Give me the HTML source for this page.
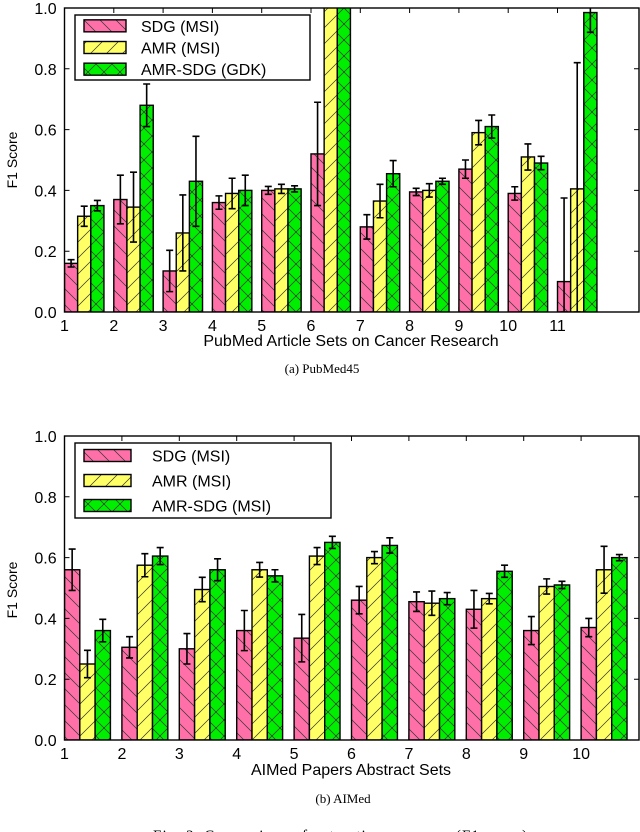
<!DOCTYPE html>
<html><head><meta charset="utf-8"><style>
html,body{margin:0;padding:0;background:#fff;width:640px;height:832px;overflow:hidden}
svg{display:block}
text{font-family:"Liberation Sans",sans-serif}
.serif{font-family:"Liberation Serif",serif}
</style></head><body>
<svg id="fig" width="640" height="832" viewBox="0 0 640 832">
<defs>
<pattern id="hp" patternUnits="userSpaceOnUse" width="16" height="16"><rect width="16" height="16" fill="#ff6fa8"/><path d="M0,0L16,16M-8,8L8,24M8,-8L24,8" stroke="#333" stroke-width="0.7"/></pattern>
<pattern id="hy" patternUnits="userSpaceOnUse" width="16" height="16"><rect width="16" height="16" fill="#ffff66"/><path d="M0,16L16,0M-8,8L8,-8M8,24L24,8" stroke="#333" stroke-width="0.7"/></pattern>
<pattern id="hg" patternUnits="userSpaceOnUse" width="16" height="16"><rect width="16" height="16" fill="#00ee00"/><path d="M0,0L16,16M-8,8L8,24M8,-8L24,8M0,16L16,0M-8,8L8,-8M8,24L24,8" stroke="#333" stroke-width="0.7"/></pattern>
</defs>
<g id="chartA"></g>
<g id="chartB"></g>
<text class="serif" x="322" y="373" font-size="13" text-anchor="middle">(a) PubMed45</text>
<text class="serif" x="343" y="803" font-size="13" text-anchor="middle">(b) AIMed</text>
<text class="serif" x="153" y="840" font-size="15" textLength="374">Fig. 3.   Comparison of extraction accuracy (F1 score)</text>
</svg>
<script>
const catsA = ["1","2","3","4","5","6","7","8","9","10","11"];
const sdgA = [0.16,0.37,0.135,0.36,0.40,0.52,0.28,0.395,0.47,0.39,0.10];
const sdgErrA = [0.012,0.08,0.068,0.022,0.013,0.17,0.04,0.012,0.03,0.022,0.275];
const amrA = [0.315,0.345,0.26,0.39,0.405,1.05,0.365,0.40,0.59,0.51,0.405];
const amrErrA = [0.033,0.115,0.125,0.05,0.015,0,0.055,0.022,0.04,0.043,0.415];
const gdkA = [0.35,0.68,0.43,0.40,0.405,1.05,0.455,0.43,0.61,0.49,0.985];
const gdkErrA = [0.017,0.07,0.148,0.05,0.01,0,0.043,0.01,0.038,0.022,0.065];
const namesA = ["SDG (MSI)","AMR (MSI)","AMR-SDG (GDK)"];

const catsB = ["1","2","3","4","5","6","7","8","9","10"];
const sdgB = [0.56,0.305,0.30,0.36,0.335,0.46,0.455,0.43,0.36,0.37];
const sdgErrB = [0.068,0.035,0.05,0.066,0.078,0.045,0.032,0.062,0.046,0.03];
const amrB = [0.25,0.575,0.495,0.56,0.605,0.60,0.45,0.465,0.505,0.56];
const amrErrB = [0.045,0.038,0.04,0.024,0.028,0.02,0.04,0.017,0.025,0.077];
const gdkB = [0.36,0.605,0.56,0.54,0.65,0.64,0.465,0.555,0.51,0.60];
const gdkErrB = [0.037,0.028,0.036,0.02,0.02,0.025,0.02,0.02,0.012,0.01];
const namesB = ["SDG (MSI)","AMR (MSI)","AMR-SDG (MSI)"];
const yTicks = ["0.0","0.2","0.4","0.6","0.8","1.0"];

const NS="http://www.w3.org/2000/svg";
function mk(p,tag,at){const e=document.createElementNS(NS,tag);for(const k in at)e.setAttribute(k,at[k]);p.appendChild(e);return e;}

function draw(g,cfg){
  const {cats,series,errs,names,x0,x1,yTop,yBot,step,legend,xtitle,ytitleY,xtitleY}=cfg;
  const yS=v=>yBot-(Math.min(v,1.03)*(yBot-yTop));
  const xS=i=>x0+i*step;
  const bw=step*0.8/3;
  const fills=["url(#hp)","url(#hy)","url(#hg)"];
  const clipId=g.id+"clip";
  const cp=mk(g,"clipPath",{id:clipId});mk(cp,"rect",{x:x0,y:yTop,width:x1-x0,height:yBot-yTop});
  const bars=mk(g,"g",{"clip-path":"url(#"+clipId+")"});
  series.forEach((s,si)=>{
    s.forEach((v,i)=>{
      const x=xS(i)+si*bw, y=yS(v);
      const r=mk(bars,"rect",{x:x,y:y,width:bw,height:yBot-y,fill:fills[si],stroke:"#000","stroke-width":1.4});
      
      
      const e=errs[si][i];
      if(e>0){
        const cx=x+bw/2, ya=yS(v+e), yb=yS(Math.max(v-e,0));
        const eb=mk(bars,"path",{d:`M${cx},${ya}V${yb}M${cx-3.5},${ya}H${cx+3.5}M${cx-3.5},${yb}H${cx+3.5}`,stroke:"#000","stroke-width":1.6,fill:"none"});
        
        
      }
    });
  });
  mk(g,"rect",{x:x0,y:yTop,width:x1-x0,height:yBot-yTop,fill:"none",stroke:"#000","stroke-width":1.4});
  yTicks.forEach(t=>{
    const y=yS(parseFloat(t));
    mk(g,"path",{d:`M${x0},${y}h5M${x1},${y}h-5`,stroke:"#000"});
    const tx=mk(g,"text",{x:x0-19,y:y+6,"font-size":16,"text-anchor":"middle"});tx.textContent=t;
    
    
  });
  cats.forEach((c,i)=>{
    const x=xS(i);
    mk(g,"path",{d:`M${x},${yBot}v-5M${x},${yTop}v5`,stroke:"#000"});
    const tx=mk(g,"text",{x:x,y:yBot+19,"font-size":16,"text-anchor":"middle"});tx.textContent=c;
    
    
  });
  const xt=mk(g,"text",{x:351,y:xtitleY,"font-size":16,"text-anchor":"middle"});xt.textContent=xtitle;
  
  
  const yt=mk(g,"text",{x:0,y:0,"font-size":14,"text-anchor":"middle",transform:`translate(17,${ytitleY}) rotate(-90)`});yt.textContent="F1 Score";
  
  
  const L=legend;
  const lg=mk(g,"g",{});
  
  
  mk(lg,"rect",{x:L.x,y:L.y,width:L.w,height:L.h,fill:"#fff",stroke:"#000","stroke-width":1.4});
  names.forEach((n,si)=>{
    const yy=L.y+L.h*(si+0.5)/3;
    mk(lg,"rect",{x:L.x+9,y:yy-6,width:L.sw,height:12,fill:fills[si],stroke:"#000","stroke-width":1.4});
    const t=mk(lg,"text",{x:L.x+L.tx,y:yy+6,"font-size":16});t.textContent=n;
    
    
  });
}
draw(document.getElementById("chartA"),{cats:catsA,series:[sdgA,amrA,gdkA],errs:[sdgErrA,amrErrA,gdkErrA],names:namesA,
  x0:64.5,x1:639,yTop:8,yBot:312,step:49.3,xtitle:"PubMed Article Sets on Cancer Research",ytitleY:160,xtitleY:346,
  legend:{x:75,y:15,w:235,h:65,sw:42,tx:66}});
draw(document.getElementById("chartB"),{cats:catsB,series:[sdgB,amrB,gdkB],errs:[sdgErrB,amrErrB,gdkErrB],names:namesB,
  x0:64.5,x1:639,yTop:436,yBot:740,step:57.4,xtitle:"AIMed Papers Abstract Sets",ytitleY:590,xtitleY:775,
  legend:{x:75,y:443,w:256,h:75,sw:47,tx:77}});
</script>
</body></html>
